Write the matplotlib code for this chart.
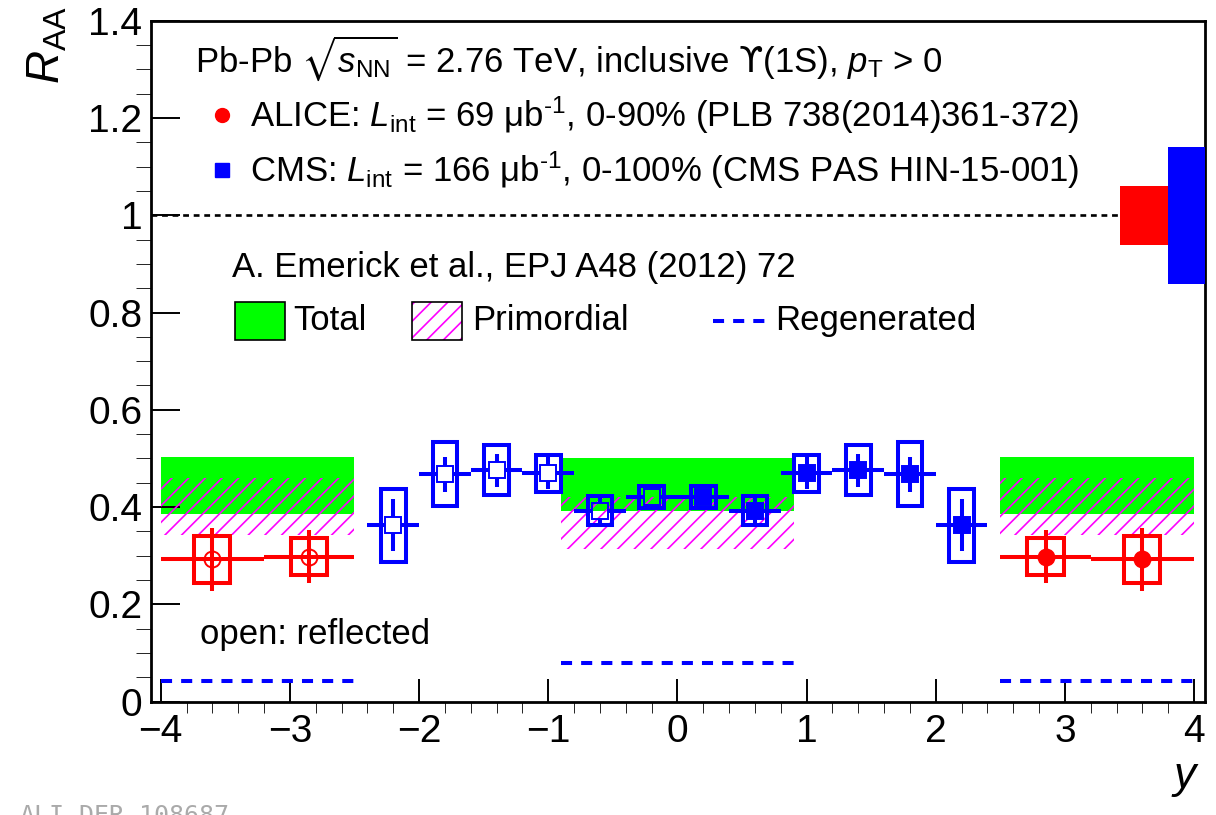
import numpy as np
import matplotlib
matplotlib.use("Agg")
import matplotlib.pyplot as plt
from matplotlib.patches import Rectangle

plt.rcParams['font.family'] = ['Liberation Sans', 'DejaVu Sans']
plt.rcParams['mathtext.fontset'] = 'custom'
plt.rcParams['mathtext.rm'] = 'Liberation Sans'
plt.rcParams['mathtext.it'] = 'Liberation Sans:italic'
plt.rcParams['mathtext.bf'] = 'Liberation Sans:bold'
plt.rcParams['mathtext.sf'] = 'DejaVu Sans'
plt.rcParams['mathtext.fallback'] = 'stixsans'

# ALICE Upsilon(1S) R_AA vs y (forward), reflected to negative y as open markers
alice_y = np.array([2.85, 3.6])
alice_lo = np.array([2.5, 3.2])
alice_hi = np.array([3.2, 4.0])
alice_raa = np.array([0.298, 0.293])
alice_stat = np.array([0.054, 0.065])
alice_sys = np.array([0.038, 0.048])

# CMS Upsilon(1S) R_AA vs y
cms_y = np.array([0.2, 0.6, 1.0, 1.4, 1.8, 2.2])
cms_raa = np.array([0.421, 0.393, 0.470, 0.476, 0.468, 0.363])
cms_stat = np.array([0.015, 0.025, 0.032, 0.034, 0.036, 0.054])
cms_sys = np.array([0.023, 0.030, 0.038, 0.051, 0.065, 0.075])
cms_bin = 0.2

# global uncertainties at R_AA = 1
glob_alice = 0.061
glob_cms = 0.141

# transport model (Emerick et al.) bands
band_lo = [-4.0, -0.9, 2.5]
band_hi = [-2.5, 0.9, 4.0]
total_min = [0.385, 0.393, 0.385]
total_max = [0.502, 0.500, 0.502]
prim_min = [0.342, 0.314, 0.342]
prim_max = [0.460, 0.420, 0.460]
regen = [0.043, 0.079, 0.043]

RED = '#ff0000'
BLUE = '#0000ff'
GREEN = '#00ff00'
MAG = '#ff00ff'
LW = 2.9
DASH = (0, (2.75, 2.25))

fig = plt.figure(figsize=(12.16, 8.15), dpi=100)
ax = fig.add_axes([0.1239, 0.139, 0.8671, 0.8357])
ax.set_xlim(-4.078, 4.085)
ax.set_ylim(0, 1.4)

# model bands
plt.rcParams['hatch.linewidth'] = 1.2
plt.rcParams['hatch.color'] = MAG
for i in range(3):
    ax.fill_between([band_lo[i], band_hi[i]], total_min[i], total_max[i],
                    color=GREEN, lw=0, zorder=1)
    ax.fill_between([band_lo[i], band_hi[i]], prim_min[i], prim_max[i],
                    facecolor='none', edgecolor=MAG, hatch='//', lw=0, zorder=2)
    ax.plot([band_lo[i], band_hi[i]], [regen[i], regen[i]], color=BLUE, lw=LW,
            ls=DASH, dash_capstyle='butt', zorder=2)

# R_AA = 1 reference line and global uncertainty boxes
ax.plot([-4.078, 3.425], [1, 1], color='black', lw=1.9, ls=(0, (2.2, 1.8)), zorder=2)
ax.add_patch(Rectangle((3.425, 1 - glob_alice), 0.375, 2 * glob_alice,
                       facecolor=RED, edgecolor='none', zorder=3))
ax.add_patch(Rectangle((3.80, 1 - glob_cms), 0.285, 2 * glob_cms,
                       facecolor=BLUE, edgecolor='none', zorder=3))


def sys_boxes(x, y, sys, hw, color):
    for xi, yi, si in zip(x, y, sys):
        ax.add_patch(Rectangle((xi - hw, yi - si), 2 * hw, 2 * si, fill=False,
                               edgecolor=color, lw=LW, zorder=4))


def gap_bars(x, y, xl, xh, stat, color, gx=0.062, gy=0.0165):
    # error bars that stop at the marker edge
    for xi, yi, a, b, s in zip(x, y, xl, xh, stat):
        ax.plot([a, xi - gx], [yi, yi], color=color, lw=LW, solid_capstyle='butt', zorder=5)
        ax.plot([xi + gx, b], [yi, yi], color=color, lw=LW, solid_capstyle='butt', zorder=5)
        if s > gy:
            ax.plot([xi, xi], [yi - s, yi - gy], color=color, lw=LW,
                    solid_capstyle='butt', zorder=5)
            ax.plot([xi, xi], [yi + gy, yi + s], color=color, lw=LW,
                    solid_capstyle='butt', zorder=5)


# ALICE
for sgn, face in [(1, RED), (-1, 'none')]:
    xs = sgn * alice_y
    lo = np.minimum(sgn * alice_lo, sgn * alice_hi)
    hi = np.maximum(sgn * alice_lo, sgn * alice_hi)
    sys_boxes(xs, alice_raa, alice_sys, 0.14, RED)
    ax.errorbar(xs, alice_raa, yerr=alice_stat, xerr=[xs - lo, hi - xs], fmt='o',
                color=RED, ms=11.5, mfc=face, mec=RED, mew=1.4, elinewidth=LW,
                capsize=0, zorder=6)

# CMS
for sgn, face in [(1, BLUE), (-1, 'none')]:
    xs = sgn * cms_y
    sys_boxes(xs, cms_raa, cms_sys, 0.095, BLUE)
    gap_bars(xs, cms_raa, xs - cms_bin, xs + cms_bin, cms_stat, BLUE)
    ax.plot(xs, cms_raa, 's', ms=12, mfc=face, mec=BLUE, mew=1.4, zorder=6, ls='none')

# axes styling
for s in ax.spines.values():
    s.set_linewidth(2.0)
ax.set_xticks(np.arange(-4, 4.01, 1))
ax.set_xticks(np.arange(-4, 4.01, 0.2), minor=True)
yt = np.arange(0, 1.41, 0.2)
ax.set_yticks(yt)
ax.set_yticklabels(['%g' % v for v in yt])
ax.set_yticks(np.arange(0, 1.41, 0.05), minor=True)
ax.tick_params(axis='both', direction='in', labelsize=28, width=1.4)
ax.tick_params(axis='x', which='major', length=16.5, pad=9)
ax.tick_params(axis='x', which='minor', length=8)
ax.tick_params(axis='y', which='major', length=21, pad=6)
ax.tick_params(axis='y', which='minor', length=10.5)

fig.text(0.039, 0.992, r'$R_{\rm AA}$', rotation=90, ha='center', va='top', fontsize=33)
fig.text(0.987, 0.045, r'$y$', ha='right', va='center', fontsize=32)

# legend and labels
fs = 25
T = ax.transAxes
ax.text(0.0418, 0.945,
        r'Pb-Pb $\sqrt{s_{\rm NN}}$ = 2.76 TeV, inclusive $\mathsf{ϒ}$(1S), $p_{\rm T}$ > 0',
        transform=T, fontsize=fs, va='center')
ax.plot([0.0676], [0.8615], 'o', color=RED, ms=10, transform=T, clip_on=False)
ax.text(0.094, 0.8615, r'ALICE: $L_{\rm int}$ = 69 μb$^{\text{-1}}$, 0-90% (PLB 738(2014)361-372)',
        transform=T, fontsize=fs, va='center')
ax.plot([0.0676], [0.7805], 's', color=BLUE, ms=10, transform=T, clip_on=False)
ax.text(0.094, 0.7805, r'CMS: $L_{\rm int}$ = 166 μb$^{\text{-1}}$, 0-100% (CMS PAS HIN-15-001)',
        transform=T, fontsize=fs, va='center')
ax.text(0.0771, 0.637, 'A. Emerick et al., EPJ A48 (2012) 72', transform=T, fontsize=fs,
        va='center')
ax.add_patch(Rectangle((0.080, 0.5315), 0.0474, 0.0558, transform=T, facecolor=GREEN,
                       edgecolor='black', lw=1.2, zorder=7))
ax.text(0.135, 0.559, 'Total', transform=T, fontsize=fs, va='center')
ax.add_patch(Rectangle((0.2478, 0.5315), 0.0474, 0.0558, transform=T, facecolor='white',
                       edgecolor=MAG, lw=0, hatch='//', zorder=7))
ax.add_patch(Rectangle((0.2478, 0.5315), 0.0474, 0.0558, transform=T, fill=False,
                       edgecolor='black', lw=1.2, zorder=8))
ax.text(0.3048, 0.559, 'Primordial', transform=T, fontsize=fs, va='center')
ax.plot([0.5335, 0.5828], [0.559, 0.559], color=BLUE, lw=LW, ls=DASH,
        dash_capstyle='butt', transform=T)
ax.text(0.592, 0.559, 'Regenerated', transform=T, fontsize=fs, va='center')
ax.text(0.047, 0.098, 'open: reflected', transform=T, fontsize=fs, va='center')

fig.text(0.016, 0.0135, 'ALI-DER-108687', family='DejaVu Sans Mono', color='#aaaaaa',
         fontsize=18, va='top')

fig.savefig('out.png', dpi=100)
